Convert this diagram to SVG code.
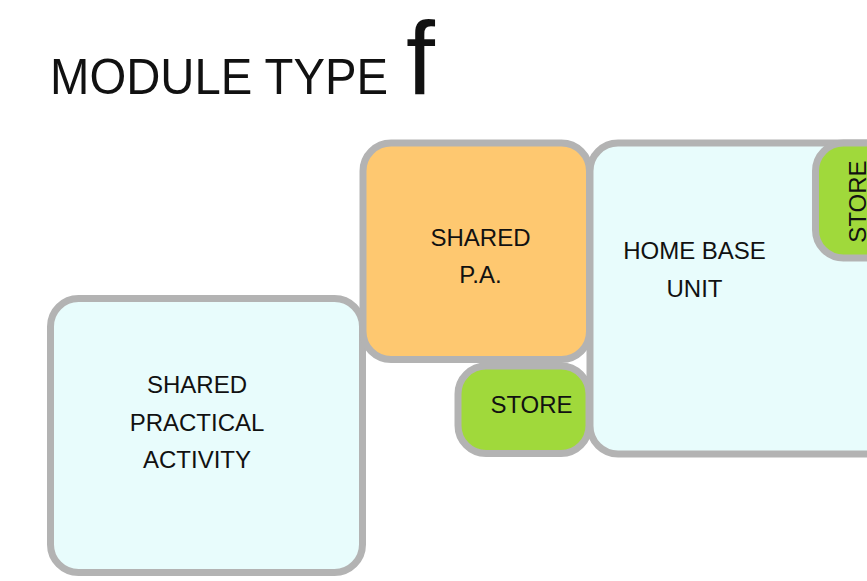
<svg xmlns="http://www.w3.org/2000/svg" width="867" height="581" viewBox="0 0 867 581">
<style>
.box{stroke:#b3b3b3;stroke-width:7}
.cyan{fill:#e8fcfc}
.orange{fill:#fec870}
.green{fill:#a0d93b}
text{font-family:"Liberation Sans",Arial,sans-serif;fill:#111;font-size:24px;text-anchor:middle}
.title{font-size:50px;text-anchor:start}
</style>
<rect width="867" height="581" fill="#ffffff"/>
<text class="title" x="50" y="94" textLength="338" lengthAdjust="spacingAndGlyphs">MODULE TYPE</text>
<text class="title" x="406" y="94" style="font-size:104px">f</text>
<g id="shared-practical-activity">
<rect class="box cyan" x="50.5" y="298.5" width="312" height="274" rx="28"/>
<text x="197" y="393">SHARED</text>
<text x="197" y="431">PRACTICAL</text>
<text x="197" y="468">ACTIVITY</text>
</g>
<g id="shared-pa">
<rect class="box orange" x="363" y="143" width="226.5" height="216.5" rx="28"/>
<text x="480.5" y="246">SHARED</text>
<text x="480.5" y="283">P.A.</text>
</g>
<g id="store-bottom">
<rect class="box green" x="458" y="366" width="131" height="87.5" rx="28"/>
<text x="531.5" y="413">STORE</text>
</g>
<g id="home-base-unit">
<rect class="box cyan" x="590" y="143" width="320" height="311" rx="28"/>
<text x="694.5" y="259">HOME BASE</text>
<text x="694.5" y="297">UNIT</text>
</g>
<g id="store-right">
<rect class="box green" x="815.5" y="143" width="100" height="115" rx="28"/>
<text transform="translate(866 201.5) rotate(-90)" x="0" y="0">STORE</text>
</g>
<g id="connectors"></g>
</svg>
